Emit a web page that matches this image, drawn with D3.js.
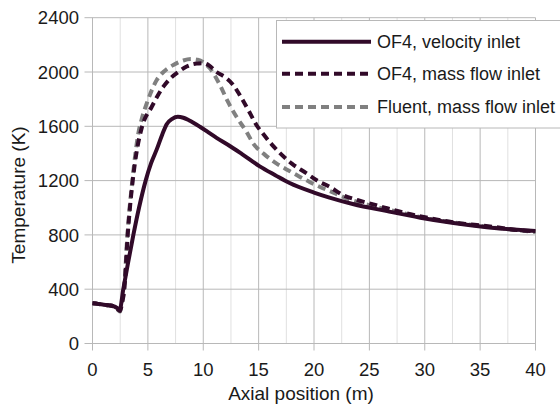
<!DOCTYPE html>
<html>
<head>
<meta charset="utf-8">
<script src="https://cdn.jsdelivr.net/npm/d3@7"></script>
<style>
  html, body { margin: 0; padding: 0; background: #fff; }
  svg { display: block; font-family: "Liberation Sans", Arial, sans-serif; }
</style>
</head>
<body>
<svg id="chart" width="560" height="407"></svg>
<script>
// ---- data ----
const xTicks = [0, 5, 10, 15, 20, 25, 30, 35, 40];
const yTicks = [0, 400, 800, 1200, 1600, 2000, 2400];
const seriesNames = ["OF4, velocity inlet", "OF4, mass flow inlet", "Fluent, mass flow inlet"];

const velX = [0,0.5,1,1.5,2,2.3,2.45,2.78,3.2,3.69,4.2,4.8,5.3,5.8,6.3,6.7,7.2,7.7,8.2,8.7,9.7,10.5,11.2,12.4,13.5,15.1,16.5,17.8,20,21.4,23.5,26.6,29.6,32.6,35.6,40];
const velT = [296,292,286,281,272,256,248,400,590,800,1000,1200,1330,1430,1540,1615,1655,1670,1663,1645,1597,1553,1515,1455,1395,1305,1240,1182,1112,1075,1028,975,927,888,857,828];

const massX = [0,0.5,1,1.5,2,2.3,2.5,2.65,2.87,3.18,3.63,4.0,4.45,5.35,6.4,7.0,7.75,8.5,9.4,10.0,10.5,11.2,12.0,12.7,13.3,14.2,14.8,15.4,16.2,16.9,18.0,19.3,20.5,21.4,22.6,23.9,25.35,26.6,27.8,29,30.5,31.7,33.2,34.7,36.5,38.3,40];
const massT = [296,292,286,281,270,250,240,290,400,800,1200,1420,1590,1744,1892,1950,2000,2040,2062,2065,2050,2000,1960,1905,1830,1700,1610,1545,1465,1405,1325,1255,1190,1155,1094,1057,1025,996,971,947,922,905,885,873,856,836,826];

const fluX = [0,0.5,1,1.5,2,2.3,2.5,2.62,2.85,3.15,3.6,4.1,4.5,4.9,5.8,6.4,7.3,8.2,8.9,9.5,10.2,10.6,11.5,12.2,13.0,13.9,14.5,15.5,16.6,17.7,18.7,19.6,20.5,21.5,23,25,27,30,32.5,35,37.5,40];
const fluT = [296,292,286,281,270,248,235,290,400,800,1200,1530,1670,1769,1941,2000,2052,2085,2095,2090,2060,2027,1905,1785,1670,1560,1475,1395,1327,1275,1229,1190,1155,1120,1068,1018,980,925,893,866,842,822];

// ---- layout ----
const svg = d3.select("#chart");
const x = d3.scaleLinear().domain([0, 40]).range([92.5, 535.5]);
const y = d3.scaleLinear().domain([0, 2400]).range([343.5, 17.7]);
const darkColor = "#310a29";
const grayColor = "#808080";
const gridMajor = "#b8b8b8";
const gridMinor = "#e0e0e0";

// minor vertical grid
const minorX = d3.range(2.5, 40, 5);
svg.append("g").selectAll("line").data(minorX).join("line")
  .attr("x1", d => x(d)).attr("x2", d => x(d))
  .attr("y1", y(2400)).attr("y2", y(0))
  .attr("stroke", gridMinor).attr("stroke-width", 1);

// major vertical grid
svg.append("g").selectAll("line").data(xTicks).join("line")
  .attr("x1", d => x(d)).attr("x2", d => x(d))
  .attr("y1", y(2400)).attr("y2", y(0) + 7)
  .attr("stroke", gridMajor).attr("stroke-width", 1);

// horizontal grid
svg.append("g").selectAll("line").data(yTicks).join("line")
  .attr("x1", x(0) - 8).attr("x2", x(40))
  .attr("y1", d => y(d)).attr("y2", d => y(d))
  .attr("stroke", gridMajor).attr("stroke-width", 1);

// tick labels
svg.append("g").selectAll("text").data(xTicks).join("text")
  .attr("x", d => x(d)).attr("y", 376)
  .attr("text-anchor", "middle")
  .attr("font-size", 18.5).attr("fill", "#1a1a1a")
  .text(d => d);

svg.append("g").selectAll("text").data(yTicks).join("text")
  .attr("x", 79).attr("y", d => y(d))
  .attr("dy", "0.36em")
  .attr("text-anchor", "end")
  .attr("font-size", 18.5).attr("fill", "#1a1a1a")
  .text(d => d);

// axis titles
svg.append("text")
  .attr("x", 301).attr("y", 400)
  .attr("text-anchor", "middle")
  .attr("font-size", 19).attr("fill", "#1a1a1a")
  .text("Axial position (m)");

svg.append("text")
  .attr("transform", "translate(25,195) rotate(-90)")
  .attr("text-anchor", "middle")
  .attr("font-size", 19).attr("fill", "#1a1a1a")
  .text("Temperature (K)");

// lines
const line = d3.line().x(d => x(d[0])).y(d => y(d[1])).curve(d3.curveMonotoneX);
const zip = (xs, ts) => xs.map((v, i) => [v, ts[i]]);

const series = [
  { data: zip(fluX, fluT), color: grayColor, dash: "8,5" },
  { data: zip(massX, massT), color: darkColor, dash: "8,5" },
  { data: zip(velX, velT), color: darkColor, dash: null }
];

series.forEach(s => {
  svg.append("path")
    .datum(s.data)
    .attr("d", line)
    .attr("fill", "none")
    .attr("stroke", s.color)
    .attr("stroke-width", 4)
    .attr("stroke-dasharray", s.dash)
    .attr("stroke-linejoin", "round");
});

// legend
const lg = svg.append("g");
lg.append("rect")
  .attr("x", 276.5).attr("y", 20.5)
  .attr("width", 300).attr("height", 107.5)
  .attr("fill", "#fff").attr("stroke", gridMajor);

const legendItems = [
  { name: seriesNames[0], color: darkColor, dash: null },
  { name: seriesNames[1], color: darkColor, dash: "8,5" },
  { name: seriesNames[2], color: grayColor, dash: "8,5" }
];
const rowY = [41.7, 73.8, 107];
legendItems.forEach((it, i) => {
  lg.append("line")
    .attr("x1", 282).attr("x2", 371)
    .attr("y1", rowY[i]).attr("y2", rowY[i])
    .attr("stroke", it.color).attr("stroke-width", 4)
    .attr("stroke-dasharray", it.dash);
  lg.append("text")
    .attr("x", 377).attr("y", rowY[i])
    .attr("dy", "0.36em")
    .attr("font-size", 18).attr("fill", "#1a1a1a")
    .text(it.name);
});
</script>
</body>
</html>
